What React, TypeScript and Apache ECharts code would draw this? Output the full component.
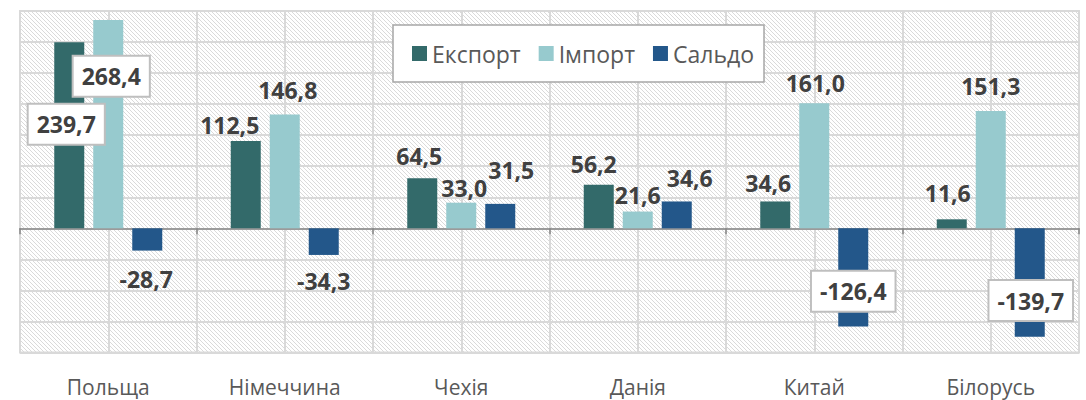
import React, { useEffect, useRef } from "react";
import * as echarts from "echarts";

const categories = ["Польща", "Німеччина", "Чехія", "Данія", "Китай", "Білорусь"];
const seriesNames = ["Експорт", "Імпорт", "Сальдо"];
const exportValues = [239.7, 112.5, 64.5, 56.2, 34.6, 11.6];
const importValues = [268.4, 146.8, 33.0, 21.6, 161.0, 151.3];
const saldoValues = [-28.7, -34.3, 31.5, 34.6, -126.4, -139.7];
const yMin = -160;
const yMax = 280;
const yInterval = 40;

const colors = ["#336A6A", "#97CACE", "#23578A"];

// label offsets from bar centre (layout only)
const exportOffsets = [[-3, -11], [-16, -60], [-3, -47], [-5, -43], [-7, -32], [-4, -31]];
const importOffsets = [[3, -48], [3, -81], [3, -28], [0, -25], [1, -83], [0, -84]];
const saldoOffsets = [[-1, 40], [0, 39], [11, -46], [13, -37], [0, 14], [1, 18]];
const exportBoxed = [true, false, false, false, false, false];
const importBoxed = [true, false, false, false, false, false];
const saldoBoxed = [false, false, false, false, true, true];

const FONT = "'Open Sans', 'Noto Sans', sans-serif";

function makePattern(): string {
  const c = document.createElement("canvas");
  c.width = 8;
  c.height = 8;
  const ctx = c.getContext("2d")!;
  ctx.fillStyle = "#ffffff";
  ctx.fillRect(0, 0, 8, 8);
  ctx.fillStyle = "#DADADA";
  for (let y = 0; y < 8; y++) {
    for (let x = 0; x < 8; x++) {
      if ((x - y + 16) % 4 === 0) ctx.fillRect(x, y, 1, 1);
    }
  }
  return c.toDataURL();
}

function buildData(values: number[], offsets: number[][], boxed: boolean[]) {
  return values.map((v, i) => ({
    value: v,
    label: boxed[i]
      ? {
          offset: offsets[i],
          backgroundColor: "#ffffff",
          borderColor: "#BFBFBF",
          borderWidth: 2,
          padding: [6, 8],
          lineHeight: 27,
        }
      : { offset: offsets[i] },
  }));
}

export default function App() {
  const ref = useRef<HTMLDivElement>(null);
  useEffect(() => {
    if (!ref.current) return;
    const chart = echarts.init(ref.current, undefined, { renderer: "svg" });
    const pattern = makePattern();
    const labelBase = {
      show: true,
      position: "inside",
      color: "#404040",
      fontSize: 23,
      fontWeight: "bold",
      fontFamily: FONT,
      textBorderWidth: 0,
      formatter: (p: any) => Number(p.value).toFixed(1).replace(".", ","),
    };
    const valuesList = [exportValues, importValues, saldoValues];
    const offsetsList = [exportOffsets, importOffsets, saldoOffsets];
    const boxedList = [exportBoxed, importBoxed, saldoBoxed];
    chart.setOption({
      animation: false,
      grid: {
        left: 20,
        right: 7,
        top: 11,
        bottom: 47.5,
        show: true,
        backgroundColor: { image: pattern, repeat: "repeat", imageWidth: 8, imageHeight: 8 } as any,
        borderColor: "#D9D9D9",
        borderWidth: 2,
      },
      legend: {
        data: seriesNames,
        left: 393,
        top: 25,
        orient: "horizontal",
        icon: "rect",
        itemWidth: 15,
        itemHeight: 15,
        itemGap: 18,
        padding: [17, 10, 17, 19],
        backgroundColor: "#ffffff",
        borderColor: "#A6A6A6",
        borderWidth: 1.5,
        textStyle: { color: "#595959", fontSize: 23, fontFamily: FONT },
      },
      xAxis: [
        {
          type: "category",
          data: categories,
          position: "bottom",
          axisLine: { show: false, onZero: false },
          axisTick: { show: false },
          splitLine: { show: false },
          axisLabel: { color: "#595959", fontSize: 21, fontFamily: FONT, margin: 24, interval: 0 },
        },
        {
          type: "category",
          data: categories,
          position: "top",
          axisLine: { show: true, onZero: true, lineStyle: { color: "#868686", width: 1.5 } },
          axisTick: { show: true, inside: true, length: 6, interval: 0, lineStyle: { color: "#868686", width: 1.5 } },
          axisLabel: { show: false },
          splitLine: { show: false },
        },
        {
          type: "category",
          data: Array.from({ length: categories.length * 2 }, () => ""),
          position: "bottom",
          axisLine: { show: false, onZero: false },
          axisTick: { show: false },
          axisLabel: { show: false },
          splitLine: { show: true, interval: 0, lineStyle: { color: "#D9D9D9", width: 2 } },
        },
      ],
      yAxis: {
        type: "value",
        min: yMin,
        max: yMax,
        interval: yInterval,
        axisLine: { show: false },
        axisTick: { show: false },
        axisLabel: { show: false },
        splitLine: { show: true, lineStyle: { color: "#D9D9D9", width: 2 } },
      },
      series: seriesNames.map((name, si) => ({
        name,
        type: "bar",
        xAxisIndex: 0,
        barWidth: 30,
        barGap: "30%",
        itemStyle: { color: colors[si] },
        label: labelBase,
        data: buildData(valuesList[si], offsetsList[si], boxedList[si]),
        z: 3,
      })),
    });
    return () => chart.dispose();
  }, []);
  return (
    <div
      ref={ref}
      style={{ position: "absolute", left: 0, top: 0, width: 1086, height: 400 }}
    />
  );
}
